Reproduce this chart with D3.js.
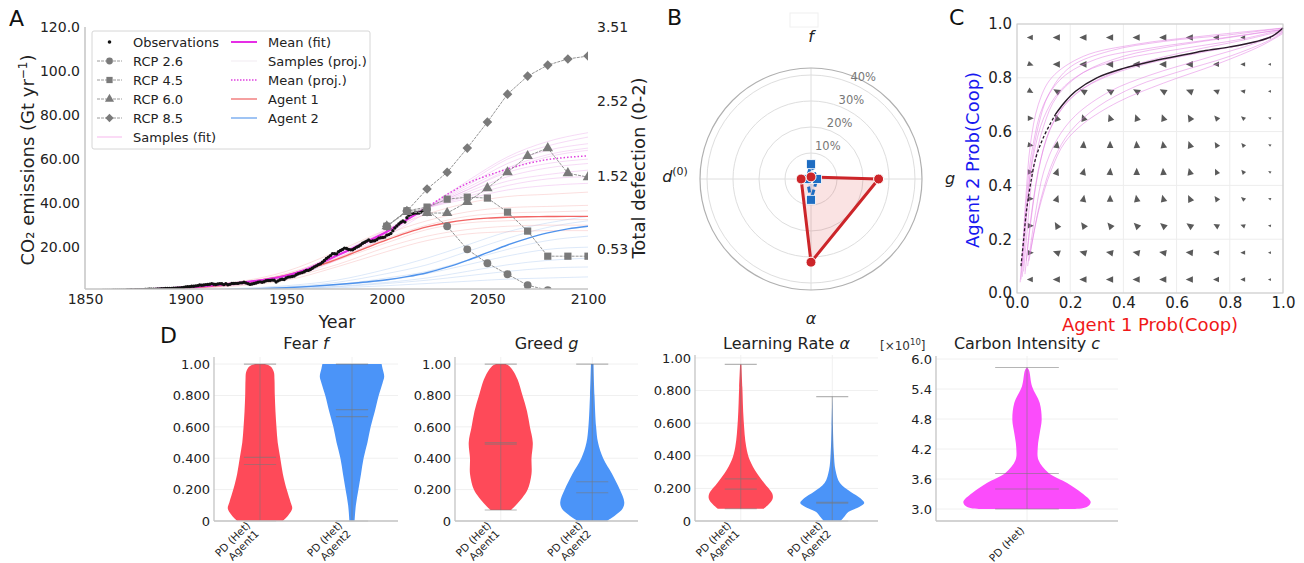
<!DOCTYPE html>
<html>
<head>
<meta charset="utf-8">
<script src="https://cdn.jsdelivr.net/npm/d3@7"></script>
<style>
  body { margin: 0; background: #fff; }
  svg { font-family: "DejaVu Sans", sans-serif; }
</style>
</head>
<body>
<svg id="fig" width="1304" height="563"></svg>
<script>
// ---------------- data ----------------
// observed emissions, one value per year from 1850
const obsStart = 1850;
const obsValues = [
  0.20,0.20,0.21,0.22,0.25,0.25,0.27,0.27,0.27,0.29,
  0.33,0.35,0.35,0.37,0.40,0.42,0.42,0.45,0.46,0.49,
  0.51,0.54,0.60,0.63,0.61,0.64,0.65,0.67,0.67,0.72,
  0.81,0.84,0.88,0.94,0.94,0.95,0.97,1.01,1.10,1.11,
  1.23,1.28,1.30,1.28,1.33,1.42,1.46,1.53,1.62,1.76,
  1.95,2.00,2.05,2.25,2.26,2.40,2.53,2.82,2.69,2.80,
  2.99,3.02,3.18,3.45,3.14,3.07,3.29,3.43,3.36,2.97,
  3.42,2.95,3.12,3.50,3.48,3.56,3.55,3.80,3.79,4.07,
  3.78,3.42,3.08,3.27,3.53,3.70,4.04,4.25,4.04,4.31,
  4.73,4.84,4.88,5.05,5.00,4.17,4.70,5.21,5.46,5.31,
  6.00,6.41,6.50,6.70,6.85,7.45,7.94,8.22,8.44,8.86,
  9.40,9.45,9.84,10.43,11.03,11.50,12.05,12.43,13.12,13.96,
  14.90,15.48,16.17,17.06,16.99,16.97,17.93,18.49,18.91,19.58,
  19.37,18.97,18.79,18.81,19.41,20.00,20.42,20.97,21.80,22.21,
  22.76,23.23,22.56,22.77,22.93,23.42,24.09,24.31,24.37,24.58,
  25.45,25.70,26.22,27.49,28.68,29.61,30.51,31.35,31.89,31.39,
  33.36,34.47,34.97,35.28,35.54,35.54,35.50,35.93,36.67,36.81,
  34.81
];

const rcpYears = [2000, 2010, 2020, 2030, 2040, 2050, 2060, 2070, 2080, 2090, 2100];
const rcp26 = [29.5, 36.5, 37.0, 29.5, 19.0, 12.7, 7.7, 2.7, 0.5, -0.8, -1.2];
const rcp45 = [29.5, 36.5, 38.2, 41.8, 42.7, 42.3, 35.9, 27.3, 15.9, 15.9, 15.9];
const rcp60 = [29.5, 36.0, 35.5, 35.5, 40.5, 46.8, 54.0, 61.4, 65.0, 53.6, 51.8];
const rcp85 = [29.5, 36.4, 46.4, 54.0, 65.0, 76.8, 89.5, 97.7, 102.7, 105.5, 106.8];

const decadeYears = [1850,1860,1870,1880,1890,1900,1910,1920,1930,1940,1950,1960,1970,
  1980,1990,2000,2010,2020,2030,2040,2050,2060,2070,2080,2090,2100];
const agent1 = [0.3,0.4,0.5,0.7,1.0,1.4,2.0,2.8,3.9,5.4,7.3,9.8,12.8,16.2,19.8,23.3,26.5,29.2,
  31.1,32.4,33.2,33.6,33.8,33.9,34.0,34.0];
const agent2 = [0.1,0.15,0.2,0.25,0.3,0.4,0.5,0.7,0.9,1.2,1.6,2.1,2.7,3.4,4.2,5.2,6.6,8.4,
  10.9,14.0,17.5,21.0,24.0,26.5,28.3,29.5];

const meanFitYears = [1850,1860,1870,1880,1890,1900,1910,1920,1930,1940,1950,1960,1970,1980,1990,2000,2010,2020];
const meanFit = [0.2,0.3,0.5,0.8,1.2,1.7,2.4,3.2,4.1,5.3,7.0,9.8,14.0,18.2,22.5,27.0,32.5,38.0];
const meanProjYears = [2020,2030,2040,2050,2060,2070,2080,2090,2100];
const meanProj = [38.0,44.0,49.0,52.5,55.5,58.0,59.8,60.8,61.5];

const sampleYears = [1850,1900,1950,1975,2000,2020,2040,2060,2080,2100];
const agent1Samples = [
  [0.3,1.2,5.0,11,18,23,26,27,27.5,27.5],
  [0.3,1.5,7.0,14,22,28,31,32,32.5,32.5],
  [0.3,1.8,8.0,16,26,32,36,38,38.5,39],
  [0.3,2.0,9.0,18,28,35,40,43,44,45],
  [0.3,1.3,6.0,12,20,25,28,29.5,30,30],
  [0.3,1.6,7.5,15,24,30,34,35.5,36,36.5]
];
const agent2Samples = [
  [0.1,0.2,0.8,1.5,2.5,3.5,4.5,5.5,6,6.5],
  [0.1,0.3,1.2,2.2,4,6,9,12,14,15],
  [0.1,0.4,1.6,3,6,9,14,19,23,25],
  [0.1,0.5,2,4,8,12,18,24,29,32],
  [0.1,0.3,1,2,3.5,5,7,9,10.5,11],
  [0.1,0.4,1.5,2.8,5,8,12,16,19,20],
  [0.1,0.6,2.5,5,10,15,21,27,31,34]
];
const fitSampleYears = [1850,1900,1950,1975,2000,2020];
const fitSamples = [
  [0.2,1.5,6.5,15,26,37],
  [0.2,1.9,7.5,17,28,39],
  [0.2,1.3,6.0,14,25,36]
];
const projSampleYears = [2020,2040,2060,2080,2100];
const projSamples = [
  [38,46,54,58,60],[38,48,58,64,67],[38,50,61,68,72],[38,44,50,53,55],
  [38,42,46,48,49],[38,47,56,62,65],[38,45,52,56,58],[38,49,60,66,70],
  [38,43,48,51,52],[38,46,55,61,64]
];

const yTicksA = [20, 40, 60, 80, 100, 120];
const yTickLabelsA = ["20.00", "40.00", "60.00", "80.00", "100.0", "120.0"];
const xTicksA = [1850, 1900, 1950, 2000, 2050, 2100];
const defectTicks = [0.53, 1.52, 2.52, 3.51];

// radar (panel B)
const radarAxes = ["f", "g", "α", "d0"];
const radarAgent1 = [0.008, 0.26, 0.32, 0.038];
const radarAgent2 = [0.057, 0.023, 0.08, 0.015];
const radarTicks = [0.1, 0.2, 0.3, 0.4];

// phase plane (panel C)
const quiverPos = [0.05, 0.15, 0.25, 0.35, 0.45, 0.55, 0.65, 0.75, 0.85, 0.95];
// arrow direction in degrees, rows from y=0.95 down to y=0.05
const quiverAngle = [
  [180,180,180,180,180,180,180,180,180,180],
  [-20,180,180,180,180,180,180,180,180,180],
  [-30,150,150,150,150,150,160,160,170,180],
  [0,110,110,110,110,110,120,130,140,160],
  [-10,80,85,90,95,100,110,120,130,150],
  [0,70,75,85,90,95,105,115,130,150],
  [0,70,80,90,100,105,115,125,140,160],
  [0,120,125,130,135,140,145,150,160,170],
  [0,160,165,170,170,170,175,175,180,180],
  [180,180,180,180,180,180,180,180,180,180]
];
const quiverSize = [5, 6, 6, 6, 6, 6, 6, 5, 4, 2.5];
const meanPathDashed = [[0.015,0.10],[0.025,0.2],[0.035,0.3],[0.05,0.4],[0.07,0.5],[0.1,0.58],[0.145,0.665]];
const meanPathSolid = [[0.145,0.665],[0.18,0.71],[0.22,0.75],[0.3,0.8],[0.4,0.835],[0.5,0.86],[0.6,0.88],
  [0.7,0.9],[0.8,0.915],[0.9,0.935],[0.96,0.955],[1.0,0.985]];
const samplePaths = [
  [[0.02,0.06],[0.03,0.2],[0.05,0.45],[0.08,0.62],[0.12,0.74],[0.2,0.84],[0.35,0.9],[0.55,0.935],[0.8,0.96],[1,0.985]],
  [[0.025,0.08],[0.04,0.25],[0.06,0.45],[0.1,0.62],[0.15,0.73],[0.25,0.82],[0.4,0.88],[0.6,0.92],[0.8,0.95],[1,0.98]],
  [[0.03,0.07],[0.05,0.25],[0.08,0.45],[0.12,0.6],[0.18,0.7],[0.28,0.78],[0.45,0.85],[0.65,0.9],[0.85,0.94],[1,0.975]],
  [[0.04,0.1],[0.07,0.3],[0.1,0.45],[0.15,0.57],[0.22,0.66],[0.35,0.75],[0.5,0.81],[0.7,0.87],[0.9,0.93],[1,0.97]],
  [[0.045,0.12],[0.08,0.3],[0.13,0.46],[0.18,0.56],[0.25,0.63],[0.38,0.71],[0.55,0.78],[0.75,0.85],[0.92,0.92],[1,0.965]],
  [[0.015,0.05],[0.025,0.2],[0.04,0.4],[0.06,0.55],[0.1,0.7],[0.17,0.8],[0.3,0.87],[0.5,0.91],[0.75,0.945],[1,0.98]],
  [[0.035,0.12],[0.055,0.3],[0.09,0.5],[0.14,0.64],[0.22,0.74],[0.35,0.81],[0.5,0.855],[0.7,0.895],[0.9,0.935],[1,0.975]],
  [[0.02,0.1],[0.035,0.3],[0.06,0.5],[0.1,0.65],[0.16,0.75],[0.25,0.82],[0.4,0.87],[0.6,0.905],[0.85,0.945],[1,0.98]],
  [[0.05,0.15],[0.09,0.35],[0.14,0.5],[0.2,0.6],[0.3,0.69],[0.45,0.77],[0.6,0.82],[0.8,0.88],[0.95,0.94],[1,0.97]],
  [[0.012,0.04],[0.02,0.15],[0.035,0.38],[0.05,0.55],[0.08,0.7],[0.13,0.8],[0.25,0.88],[0.45,0.925],[0.7,0.955],[1,0.985]]
];
const unitTicks = [0, 0.2, 0.4, 0.6, 0.8, 1.0];

// violins (panel D): [value, relative density]
const fearA1 = [[0,0.71],[0.04,0.89],[0.08,1.0],[0.12,0.95],[0.2,0.83],[0.3,0.71],[0.4,0.63],[0.5,0.55],
  [0.6,0.51],[0.7,0.48],[0.8,0.46],[0.9,0.45],[0.95,0.43],[0.985,0.33],[1.0,0.15]];
const fearA2 = [[0,0.08],[0.1,0.12],[0.2,0.2],[0.3,0.28],[0.4,0.36],[0.5,0.48],[0.6,0.58],[0.7,0.71],
  [0.8,0.83],[0.88,0.95],[0.92,1.0],[0.97,0.95],[1.0,0.92]];
const greedA1 = [[0.07,0.32],[0.1,0.47],[0.15,0.68],[0.2,0.84],[0.3,0.96],[0.4,0.96],[0.5,1.0],[0.6,0.91],
  [0.7,0.82],[0.8,0.68],[0.9,0.53],[0.95,0.41],[0.985,0.28],[1.0,0.15]];
const greedA2 = [[0,0.46],[0.04,0.74],[0.08,0.95],[0.12,1.0],[0.2,0.86],[0.3,0.62],[0.4,0.34],[0.5,0.18],
  [0.6,0.12],[0.8,0.07],[1.0,0.04]];
const lrA1 = [[0.075,0.72],[0.11,0.91],[0.14,1.0],[0.17,0.98],[0.233,0.73],[0.294,0.5],[0.374,0.28],
  [0.456,0.17],[0.62,0.09],[0.82,0.05],[0.96,0.02]];
const lrA2 = [[0,0.26],[0.025,0.37],[0.055,0.5],[0.086,0.84],[0.11,1.0],[0.14,0.88],[0.18,0.57],
  [0.233,0.24],[0.313,0.1],[0.416,0.05],[0.58,0.02],[0.763,0.0]];
const carbon = [[3.0,0.73],[3.04,0.94],[3.14,1.0],[3.32,0.86],[3.52,0.63],[3.72,0.34],[3.98,0.18],
  [4.25,0.17],[4.52,0.2],[4.78,0.23],[5.12,0.2],[5.45,0.08],[5.78,0.03],[5.83,0.0]];
// [min, max, mean, median]
const fearA1Stats = [0, 1, 0.405, 0.36];
const fearA2Stats = [0, 1, 0.71, 0.665];
const greedA1Stats = [0.07, 1, 0.50, 0.49];
const greedA2Stats = [0, 1, 0.25, 0.18];
const lrA1Stats = [0.075, 0.96, 0.258, 0.196];
const lrA2Stats = [0, 0.763, 0.115, 0.11];
const carbonStats = [3.0, 5.83, 3.71, 3.40];
const probTicks = [0, 0.2, 0.4, 0.6, 0.8, 1.0];
const probTickLabels = ["0", "0.200", "0.400", "0.600", "0.800", "1.00"];
const carbonTicks = [3.0, 3.6, 4.2, 4.8, 5.4, 6.0];

// ---------------- drawing ----------------
const svg = d3.select("#fig");
const txt = "#222";
const spine = "#c4c4c4";

function panelLetter(s, x, y) {
  svg.append("text").attr("x", x).attr("y", y).attr("font-size", 22).attr("fill", "#111").text(s);
}

// ===== Panel A =====
const xA = d3.scaleLinear().domain([1850, 2100]).range([85, 588]);
const yA = d3.scaleLinear().domain([1, 120]).range([289, 27]);
const yA2 = d3.scaleLinear().domain([0, 3.51]).range([289, 27]);

svg.append("clipPath").attr("id", "clipA").append("rect")
  .attr("x", 85).attr("y", 27).attr("width", 503).attr("height", 262);
const gA = svg.append("g");
const plotA = gA.append("g").attr("clip-path", "url(#clipA)");

const lineYV = (years) => d3.line()
  .x((d, i) => xA(years[i])).y(d => yA(d)).curve(d3.curveMonotoneX);

agent2Samples.forEach(s => plotA.append("path").attr("d", lineYV(sampleYears)(s))
  .attr("fill", "none").attr("stroke", "#9ec1ef").attr("stroke-opacity", 0.35).attr("stroke-width", 1));
agent1Samples.forEach(s => plotA.append("path").attr("d", lineYV(sampleYears)(s))
  .attr("fill", "none").attr("stroke", "#f3a3a3").attr("stroke-opacity", 0.35).attr("stroke-width", 1));
fitSamples.forEach(s => plotA.append("path").attr("d", lineYV(fitSampleYears)(s))
  .attr("fill", "none").attr("stroke", "#f5b5ee").attr("stroke-opacity", 0.5).attr("stroke-width", 1));
projSamples.forEach(s => plotA.append("path").attr("d", lineYV(projSampleYears)(s))
  .attr("fill", "none").attr("stroke", "#e597e5").attr("stroke-opacity", 0.35).attr("stroke-width", 1));

plotA.append("path").attr("d", lineYV(decadeYears)(agent1))
  .attr("fill", "none").attr("stroke", "#f26464").attr("stroke-width", 1.4);
plotA.append("path").attr("d", lineYV(decadeYears)(agent2))
  .attr("fill", "none").attr("stroke", "#4f93ec").attr("stroke-width", 1.4);

plotA.append("path").attr("d", lineYV(meanFitYears)(meanFit))
  .attr("fill", "none").attr("stroke", "#e62ee6").attr("stroke-width", 2.2);
plotA.append("path").attr("d", lineYV(meanProjYears)(meanProj))
  .attr("fill", "none").attr("stroke", "#e040e0").attr("stroke-width", 1.5).attr("stroke-dasharray", "1.5,2");

plotA.append("g").selectAll("circle").data(obsValues).join("circle")
  .attr("cx", (d, i) => xA(obsStart + i)).attr("cy", d => yA(d)).attr("r", 1.7).attr("fill", "#111");

const rcpSets = [
  { v: rcp26, sym: d3.symbolCircle, size: 48, rot: 0 },
  { v: rcp45, sym: d3.symbolSquare, size: 52, rot: 0 },
  { v: rcp60, sym: d3.symbolTriangle, size: 48, rot: 0 },
  { v: rcp85, sym: d3.symbolSquare, size: 46, rot: 45 }
];
rcpSets.forEach(r => {
  plotA.append("path")
    .attr("d", d3.line().x((d, i) => xA(rcpYears[i])).y(d => yA(d))(r.v))
    .attr("fill", "none").attr("stroke", "#959595").attr("stroke-width", 1).attr("stroke-dasharray", "3,1");
  plotA.append("g").selectAll("path").data(r.v).join("path")
    .attr("d", d3.symbol().type(r.sym).size(r.size))
    .attr("transform", (d, i) => `translate(${xA(rcpYears[i])},${yA(d)}) rotate(${r.rot})`)
    .attr("fill", "#7a7a7a");
});

// spines
gA.append("line").attr("x1", 85).attr("x2", 85).attr("y1", 27).attr("y2", 289).attr("stroke", spine).attr("stroke-width", 1.5);
gA.append("line").attr("x1", 85).attr("x2", 588).attr("y1", 289).attr("y2", 289).attr("stroke", spine).attr("stroke-width", 1.5);

const axLA = gA.append("g").attr("transform", "translate(85,0)")
  .call(d3.axisLeft(yA).tickValues(yTicksA).tickFormat((d, i) => yTickLabelsA[i]).tickSize(0).tickPadding(5));
const axBA = gA.append("g").attr("transform", "translate(0,289)")
  .call(d3.axisBottom(xA).tickValues(xTicksA).tickFormat(d3.format("d")).tickSize(0).tickPadding(5));
const axRA = gA.append("g").attr("transform", "translate(588,0)")
  .call(d3.axisRight(yA2).tickValues(defectTicks).tickFormat(d3.format(".2f")).tickSize(0).tickPadding(9));
[axLA, axBA, axRA].forEach(a => {
  a.select(".domain").remove();
  a.selectAll("text").attr("font-size", 14).attr("fill", txt).attr("font-family", "DejaVu Sans");
});

gA.append("text").attr("x", 337).attr("y", 328).attr("text-anchor", "middle")
  .attr("font-size", 17.5).attr("fill", txt).text("Year");
const yl = gA.append("text").attr("transform", "translate(34,160) rotate(-90)")
  .attr("text-anchor", "middle").attr("font-size", 18).attr("fill", txt);
yl.append("tspan").text("CO₂ emissions (Gt yr");
yl.append("tspan").attr("font-size", 12).attr("dy", -7).text("−1");
yl.append("tspan").attr("dy", 7).text(")");
gA.append("text").attr("transform", "translate(645,168) rotate(-90)")
  .attr("text-anchor", "middle").attr("font-size", 18).attr("fill", txt).text("Total defection (0-2)");

// legend
const leg = gA.append("g");
leg.append("rect").attr("x", 92).attr("y", 31).attr("width", 278).attr("height", 118).attr("rx", 2)
  .attr("fill", "#fff").attr("fill-opacity", 0.85).attr("stroke", "#d6d6d6");
const legRows = [42, 61, 80, 99, 118, 137];
const legLeft = [
  { t: "Observations", kind: "obs" },
  { t: "RCP 2.6", kind: "rcp", r: 0 }, { t: "RCP 4.5", kind: "rcp", r: 1 },
  { t: "RCP 6.0", kind: "rcp", r: 2 }, { t: "RCP 8.5", kind: "rcp", r: 3 },
  { t: "Samples (fit)", kind: "line", c: "#f8c4f0", w: 1.2 }
];
const legRight = [
  { t: "Mean (fit)", kind: "line", c: "#e62ee6", w: 2 },
  { t: "Samples (proj.)", kind: "line", c: "#f4eef4", w: 1.2 },
  { t: "Mean (proj.)", kind: "line", c: "#e040e0", w: 1.3, dash: "1.5,1.5" },
  { t: "Agent 1", kind: "line", c: "#f28080", w: 1.5 },
  { t: "Agent 2", kind: "line", c: "#7fb0f0", w: 1.5 }
];
function legEntry(e, i, hx0, hx1, tx) {
  const y = legRows[i];
  if (e.kind === "obs") {
    leg.append("circle").attr("cx", (hx0 + hx1) / 2).attr("cy", y).attr("r", 1.8).attr("fill", "#111");
  } else if (e.kind === "rcp") {
    const r = rcpSets[e.r];
    leg.append("line").attr("x1", hx0).attr("x2", hx1).attr("y1", y).attr("y2", y)
      .attr("stroke", "#9a9a9a").attr("stroke-dasharray", "3,1");
    leg.append("path").attr("d", d3.symbol().type(r.sym).size(r.size * 0.75))
      .attr("transform", `translate(${(hx0 + hx1) / 2},${y}) rotate(${r.rot})`).attr("fill", "#7a7a7a");
  } else {
    leg.append("line").attr("x1", hx0).attr("x2", hx1).attr("y1", y).attr("y2", y)
      .attr("stroke", e.c).attr("stroke-width", e.w).attr("stroke-dasharray", e.dash || null);
  }
  leg.append("text").attr("x", tx).attr("y", y).attr("dy", "0.35em").attr("font-size", 13)
    .attr("fill", txt).text(e.t);
}
legLeft.forEach((e, i) => legEntry(e, i, 97, 122, 133));
legRight.forEach((e, i) => legEntry(e, i, 231, 257, 268));

panelLetter("A", 9, 26);

// ===== Panel B =====
const cB = [811, 179];
const rB = d3.scaleLinear().domain([0, 0.427]).range([0, 111]);
const gB = svg.append("g").attr("transform", `translate(${cB[0]},${cB[1]})`);
const angB = radarAxes.map((d, i) => i * Math.PI / 2);

svg.append("rect").attr("x", 790).attr("y", 13).attr("width", 28).attr("height", 14)
  .attr("fill", "none").attr("stroke", "#f0f0f0");

radarTicks.forEach(t => gB.append("circle").attr("r", rB(t)).attr("fill", "none").attr("stroke", "#dedede"));
angB.forEach(a => gB.append("line").attr("x2", rB(0.427) * Math.sin(a)).attr("y2", -rB(0.427) * Math.cos(a))
  .attr("stroke", "#dedede"));
gB.append("circle").attr("r", rB(0.427)).attr("fill", "none").attr("stroke", "#b0b0b0").attr("stroke-width", 1.2);
radarTicks.forEach(t => {
  const a = 27 * Math.PI / 180, r = rB(t) + 11;
  gB.append("text").attr("x", r * Math.sin(a)).attr("y", -r * Math.cos(a)).attr("dy", "0.35em")
    .attr("text-anchor", "middle").attr("font-size", 11.5).attr("fill", "#777").text(Math.round(t * 100) + "%");
});

const radial = d3.lineRadial().angle((d, i) => angB[i]).radius(d => rB(d)).curve(d3.curveLinearClosed);
gB.append("path").attr("d", radial(radarAgent1)).attr("fill", "#d62728").attr("fill-opacity", 0.13)
  .attr("stroke", "#cc2529").attr("stroke-width", 3).attr("stroke-linejoin", "round");
gB.append("path").attr("d", radial(radarAgent2)).attr("fill", "#1f6dc2").attr("fill-opacity", 0.1)
  .attr("stroke", "#1f6dc2").attr("stroke-width", 3).attr("stroke-dasharray", "6,3");
gB.selectAll(".sq").data(radarAgent2).join("rect").attr("class", "sq")
  .attr("x", (d, i) => rB(d) * Math.sin(angB[i]) - 4.5).attr("y", (d, i) => -rB(d) * Math.cos(angB[i]) - 4.5)
  .attr("width", 9).attr("height", 9).attr("fill", "#1f6dc2").attr("stroke", "#fff").attr("stroke-width", 0.8);
gB.selectAll(".dot").data(radarAgent1).join("circle").attr("class", "dot")
  .attr("cx", (d, i) => rB(d) * Math.sin(angB[i])).attr("cy", (d, i) => -rB(d) * Math.cos(angB[i]))
  .attr("r", 5).attr("fill", "#cc2529").attr("stroke", "#fff").attr("stroke-width", 1);

// axis labels
const labPos = [[0, -137], [139, 5], [0, 145], [-136, 3]];
radarAxes.forEach((a, i) => {
  const t = gB.append("text").attr("x", labPos[i][0]).attr("y", labPos[i][1]).attr("text-anchor", "middle")
    .attr("font-size", 16).attr("fill", txt);
  if (a === "d0") {
    t.append("tspan").attr("font-style", "italic").text("d");
    t.append("tspan").attr("font-size", 11).attr("dy", -7).text("(0)");
  } else {
    t.attr("font-style", "italic").text(a);
  }
});
panelLetter("B", 667, 25);

// ===== Panel C =====
const xC = d3.scaleLinear().domain([0, 1]).range([1017, 1283]);
const yC = d3.scaleLinear().domain([0, 1]).range([293, 24]);
const gC = svg.append("g");
unitTicks.forEach(t => {
  gC.append("line").attr("x1", xC(t)).attr("x2", xC(t)).attr("y1", yC(0)).attr("y2", yC(1)).attr("stroke", "#ededed");
  gC.append("line").attr("y1", yC(t)).attr("y2", yC(t)).attr("x1", xC(0)).attr("x2", xC(1)).attr("stroke", "#ededed");
});
quiverAngle.forEach((row, ri) => {
  const yv = quiverPos[quiverPos.length - 1 - ri];
  row.forEach((ang, ci) => {
    const s = quiverSize[ci];
    gC.append("path").attr("d", `M${s * 0.7},0L${-s * 0.5},${s * 0.55}L${-s * 0.5},${-s * 0.55}Z`)
      .attr("transform", `translate(${xC(quiverPos[ci])},${yC(yv)}) rotate(${-ang})`)
      .attr("fill", "#5a5a5a");
  });
});
const lineC = d3.line().x(d => xC(d[0])).y(d => yC(d[1])).curve(d3.curveCatmullRom);
samplePaths.forEach(p => gC.append("path").attr("d", lineC(p)).attr("fill", "none")
  .attr("stroke", "#e27ae2").attr("stroke-opacity", 0.5).attr("stroke-width", 1));
gC.append("path").attr("d", lineC(meanPathDashed)).attr("fill", "none").attr("stroke", "#2a1a2a")
  .attr("stroke-width", 1.3).attr("stroke-dasharray", "3,2");
gC.append("path").attr("d", lineC(meanPathSolid)).attr("fill", "none").attr("stroke", "#2a1a2a").attr("stroke-width", 1.5);
gC.append("rect").attr("x", xC(0)).attr("y", yC(1)).attr("width", xC(1) - xC(0)).attr("height", yC(0) - yC(1))
  .attr("fill", "none").attr("stroke", "#c8c8c8");
const axCx = gC.append("g").attr("transform", `translate(0,${yC(0)})`)
  .call(d3.axisBottom(xC).tickValues(unitTicks).tickFormat(d3.format(".1f")).tickSize(0).tickPadding(4));
const axCy = gC.append("g").attr("transform", `translate(${xC(0)},0)`)
  .call(d3.axisLeft(yC).tickValues(unitTicks).tickFormat(d3.format(".1f")).tickSize(0).tickPadding(5));
[axCx, axCy].forEach(a => {
  a.select(".domain").remove();
  a.selectAll("text").attr("font-size", 15).attr("fill", txt).attr("font-family", "DejaVu Sans");
});
gC.append("text").attr("x", 1150).attr("y", 331).attr("text-anchor", "middle").attr("font-size", 18)
  .attr("fill", "#f01818").text("Agent 1 Prob(Coop)");
gC.append("text").attr("transform", "translate(979,160) rotate(-90)").attr("text-anchor", "middle")
  .attr("font-size", 18).attr("fill", "#1818f0").text("Agent 2 Prob(Coop)");
panelLetter("C", 949, 25);

// ===== Panel D =====
const violinColors = { red: "#fe4a59", blue: "#4b94f8", mag: "#fb4cfb" };
function violinPanel(cfg) {
  const g = svg.append("g");
  const x = d3.scaleLinear().domain(cfg.xdom).range([cfg.left, cfg.right]);
  const y = d3.scaleLinear().domain(cfg.ydom).range([521, cfg.top]);
  // grid
  cfg.ticks.forEach(t => g.append("line").attr("x1", cfg.left).attr("x2", cfg.right)
    .attr("y1", y(t)).attr("y2", y(t)).attr("stroke", "#f0f0f0"));
  cfg.violins.forEach((v, i) => g.append("line").attr("x1", x(i + 1)).attr("x2", x(i + 1))
    .attr("y1", y(cfg.ydom[0])).attr("y2", cfg.top).attr("stroke", "#f0f0f0"));
  cfg.violins.forEach((v, i) => {
    const pos = i + 1;
    const area = d3.area().y(d => y(d[0]))
      .x0(d => x(pos - 0.35 * d[1])).x1(d => x(pos + 0.35 * d[1])).curve(d3.curveCatmullRom);
    g.append("path").attr("d", area(v.prof)).attr("fill", violinColors[v.color]);
    const [mn, mx, mean, med] = v.stats;
    const gray = "rgba(120,120,120,0.55)";
    g.append("line").attr("x1", x(pos)).attr("x2", x(pos)).attr("y1", y(mn)).attr("y2", y(mx)).attr("stroke", gray);
    [mn, mx, mean, med].forEach(s => g.append("line").attr("x1", x(pos - 0.175)).attr("x2", x(pos + 0.175))
      .attr("y1", y(s)).attr("y2", y(s)).attr("stroke", gray).attr("stroke-width", 1.2));
    // rotated tick label
    const lab = g.append("g");
    if (v.lines.length === 2) {
      lab.attr("transform", `translate(${x(pos) - 9},526) rotate(-45)`);
      lab.append("text").attr("text-anchor", "end").attr("font-size", 10.5).attr("fill", txt).text(v.lines[0]);
      lab.append("text").attr("y", 12).attr("text-anchor", "end").attr("font-size", 10.5).attr("fill", txt).text(v.lines[1]);
    } else {
      lab.attr("transform", `translate(${x(pos) - 2},531) rotate(-45)`);
      lab.append("text").attr("text-anchor", "end").attr("font-size", 10.5).attr("fill", txt).text(v.lines[0]);
    }
  });
  g.append("line").attr("x1", cfg.left).attr("x2", cfg.left).attr("y1", cfg.top).attr("y2", 521).attr("stroke", spine).attr("stroke-width", 1.3);
  g.append("line").attr("x1", cfg.left).attr("x2", cfg.right).attr("y1", 521).attr("y2", 521).attr("stroke", spine).attr("stroke-width", 1.3);
  const ay = g.append("g").attr("transform", `translate(${cfg.left},0)`)
    .call(d3.axisLeft(y).tickValues(cfg.ticks).tickFormat((d, i) => cfg.labels[i]).tickSize(0).tickPadding(4));
  ay.select(".domain").remove();
  ay.selectAll("text").attr("font-size", 13).attr("fill", txt).attr("font-family", "DejaVu Sans");
  const tt = g.append("text").attr("x", (cfg.left + cfg.right) / 2).attr("y", 349).attr("text-anchor", "middle")
    .attr("font-size", 16).attr("fill", txt);
  tt.append("tspan").text(cfg.title[0]);
  tt.append("tspan").attr("font-style", "italic").text(cfg.title[1]);
}

violinPanel({ left: 214, right: 398, top: 357, xdom: [0.5, 2.5], ydom: [0, 1.045],
  ticks: probTicks, labels: probTickLabels, title: ["Fear ", "f"],
  violins: [
    { prof: fearA1, stats: fearA1Stats, color: "red", lines: ["PD (Het)", "Agent1"] },
    { prof: fearA2, stats: fearA2Stats, color: "blue", lines: ["PD (Het)", "Agent2"] }
  ] });
violinPanel({ left: 455, right: 638, top: 357, xdom: [0.5, 2.5], ydom: [0, 1.045],
  ticks: probTicks, labels: probTickLabels, title: ["Greed ", "g"],
  violins: [
    { prof: greedA1, stats: greedA1Stats, color: "red", lines: ["PD (Het)", "Agent1"] },
    { prof: greedA2, stats: greedA2Stats, color: "blue", lines: ["PD (Het)", "Agent2"] }
  ] });
violinPanel({ left: 695, right: 878, top: 355, xdom: [0.5, 2.5], ydom: [0, 1.018],
  ticks: probTicks, labels: probTickLabels, title: ["Learning Rate ", "α"],
  violins: [
    { prof: lrA1, stats: lrA1Stats, color: "red", lines: ["PD (Het)", "Agent1"] },
    { prof: lrA2, stats: lrA2Stats, color: "blue", lines: ["PD (Het)", "Agent2"] }
  ] });
violinPanel({ left: 936, right: 1118, top: 356, xdom: [0.5, 1.5], ydom: [2.76, 6.06],
  ticks: carbonTicks, labels: carbonTicks.map(d => d.toFixed(1)), title: ["Carbon Intensity ", "c"],
  violins: [
    { prof: carbon, stats: carbonStats, color: "mag", lines: ["PD (Het)"] }
  ] });

const mult = svg.append("text").attr("x", 880).attr("y", 350).attr("font-size", 12).attr("fill", "#333");
mult.append("tspan").text("[×10");
mult.append("tspan").attr("font-size", 8.5).attr("dy", -5).text("10");
mult.append("tspan").attr("dy", 5).text("]");

panelLetter("D", 160, 343);
</script>
</body>
</html>
